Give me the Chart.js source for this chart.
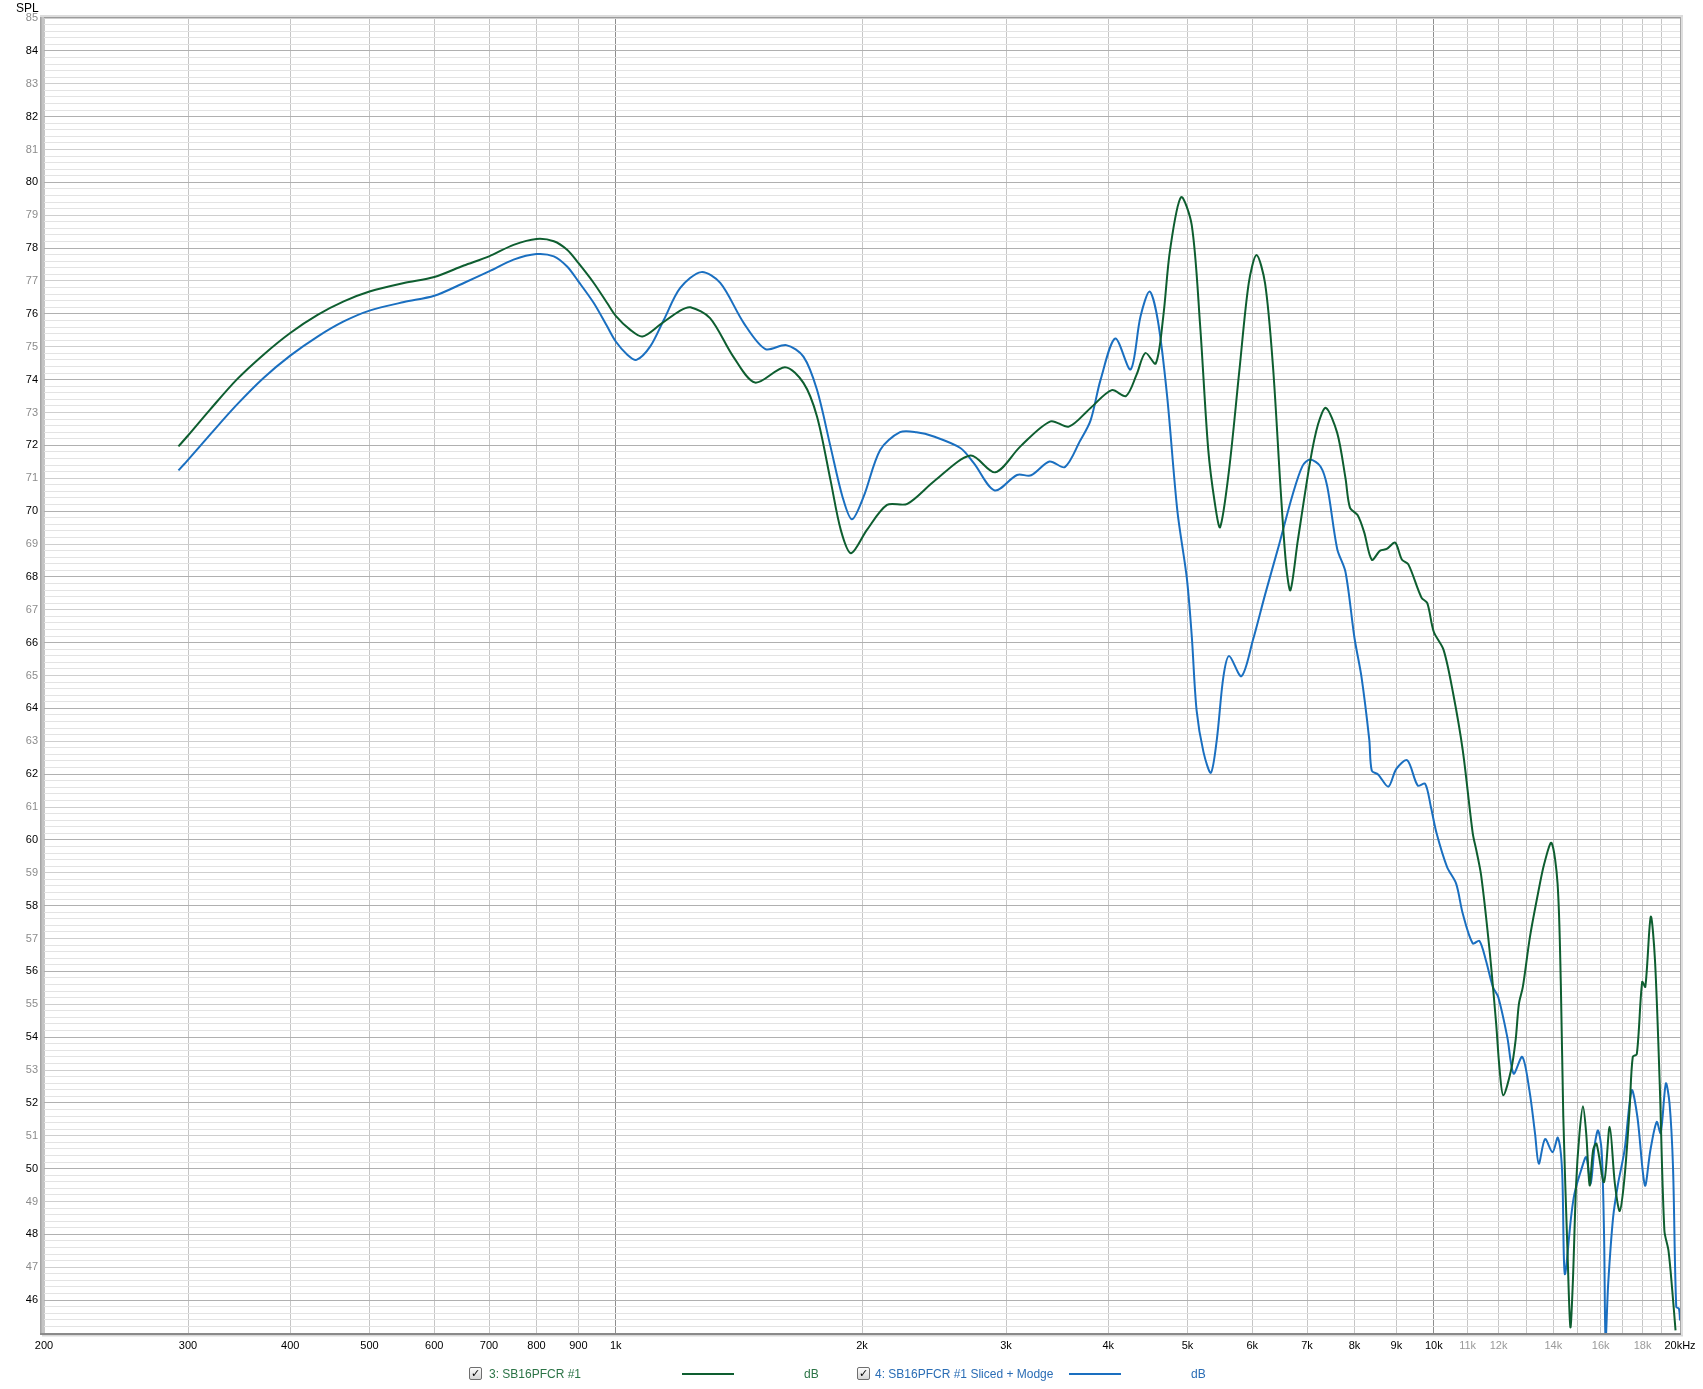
<!DOCTYPE html>
<html>
<head>
<meta charset="utf-8">
<script src="https://cdn.jsdelivr.net/npm/chart.js@4.4.0/dist/chart.umd.min.js"></script>
<style>
body { margin:0; background:#fff; font-family:"Liberation Sans", Arial, sans-serif; }
#wrap { position:relative; width:1703px; height:1389px; }
#spl { position:absolute; left:16px; top:1px; font-size:12px; color:#000; }
.leg { position:absolute; top:1367px; font-size:12px; line-height:14px; white-space:nowrap; }
.box { position:absolute; top:1367px; width:11px; height:11px; border:1px solid #6e6e6e; border-radius:2px;
       background:linear-gradient(#fdfdfd,#d6d6d6); font-size:11px; line-height:11px; text-align:center; color:#000; }
.swatch { position:absolute; top:1373px; height:2px; }
</style>
</head>
<body>
<div id="wrap">
<canvas id="myChart"></canvas>
<div id="spl">SPL</div>
<div class="box" style="left:469px">&#10003;</div>
<div class="leg" style="left:489px;color:#2b7446">3: SB16PFCR #1</div>
<div class="swatch" style="left:682px;width:52px;background:#0e5e30"></div>
<div class="leg" style="left:804px;color:#2b7446">dB</div>
<div class="box" style="left:857px">&#10003;</div>
<div class="leg" style="left:875px;color:#2a6db5">4: SB16PFCR #1 Sliced + Modge</div>
<div class="swatch" style="left:1069px;width:52px;background:#1a6fc0"></div>
<div class="leg" style="left:1191px;color:#2a6db5">dB</div>
</div>
<script>
// 3: SB16PFCR #1
var greenFreq = [292, 300, 319, 344, 371, 400, 432, 465, 500, 551, 600, 652, 700, 750, 800, 840, 872, 900, 940, 976,
	1000, 1041, 1078, 1134, 1199, 1234, 1304, 1392, 1480, 1610,
	1696, 1762, 1830, 1884, 1939, 2028, 2146, 2272, 2448, 2714, 2910, 3124, 3400, 3580, 3806, 4040, 4204, 4332, 4440, 4572,
	4670, 4760, 4910, 5060, 5180, 5300, 5400, 5480, 5620, 5786, 5940, 6072, 6220, 6360, 6500, 6600, 6680, 6820, 7060, 7220,
	7380, 7620, 7800, 7900, 8070, 8220, 8400, 8600, 8760, 8970, 9140, 9310, 9660, 9820, 10000, 10280, 10560, 10850, 11160, 11270,
	11430, 11700, 11920, 12030, 12160, 12430, 12590, 12710, 12850, 13110, 13410, 13650, 13930, 14170, 14300, 14400, 14570, 14690, 14790, 14930,
	15070, 15220, 15360, 15510, 15660, 15810, 16150, 16410, 16650, 16880, 17110, 17350, 17510, 17710, 17980, 18140, 18420, 18640, 18890, 19140,
	19360, 19570, 19750];
var greenSpl = [71.97, 72.30, 73.08, 74.00, 74.76, 75.42, 75.97, 76.38, 76.68, 76.94, 77.12, 77.47, 77.75, 78.10, 78.28, 78.21, 77.95, 77.55, 76.94, 76.33,
	75.94, 75.52, 75.31, 75.68, 76.10, 76.20, 75.87, 74.70, 73.91, 74.38,
	73.90, 72.88, 70.95, 69.43, 68.72, 69.43, 70.19, 70.22, 70.90, 71.69, 71.18, 71.97, 72.73, 72.57, 73.14, 73.68, 73.50, 74.15, 74.81, 74.49,
	75.92, 77.94, 79.55, 78.70, 75.67, 71.88, 70.24, 69.51, 71.25, 74.28, 76.93, 77.79, 76.93, 74.40, 70.62, 68.35, 67.59, 69.10, 71.50, 72.64,
	73.14, 72.38, 71.00, 70.10, 69.88, 69.36, 68.52, 68.80, 68.85, 69.04, 68.53, 68.38, 67.37, 67.20, 66.33, 65.78, 64.46, 62.73, 60.20, 59.70,
	58.90, 56.65, 54.41, 53.09, 52.23, 52.99, 53.90, 55.02, 55.53, 57.05, 58.37, 59.28, 59.91, 58.67, 55.63, 51.57, 47.51, 45.18, 46.50, 49.54,
	51.06, 51.90, 51.06, 49.49, 50.56, 50.76, 49.59, 51.27, 49.54, 48.71, 49.74, 51.77, 53.40, 53.48, 55.68, 55.53, 57.66, 56.34, 52.59, 48.12,
	47.51, 46.29, 45.08];

// 4: SB16PFCR #1 Sliced + Modge
var blueFreq = [292, 300, 319, 344, 371, 400, 432, 465, 500, 551, 600, 652, 700, 750, 800, 840, 872, 900, 940, 976,
	1000, 1033, 1060, 1102, 1145, 1199, 1272, 1342, 1434, 1524,
	1616, 1696, 1762, 1830, 1893, 1944, 2009, 2105, 2226, 2332, 2448, 2638, 2740, 2906, 3094, 3220, 3390, 3540, 3694, 3806,
	3915, 4080, 4260, 4380, 4494, 4600, 4720, 4860, 4990, 5060, 5130, 5230, 5340, 5430, 5530, 5620, 5820, 6010, 6220, 6470,
	6720, 6910, 7060, 7270, 7410, 7620, 7800, 8000, 8160, 8340, 8400, 8550, 8800, 9000, 9280, 9560, 9760, 9920, 10080, 10380,
	10650, 10850, 11160, 11370, 11580, 11810, 11990, 12300, 12520, 12830, 13090, 13300, 13440, 13680, 13970, 14180, 14350, 14460, 14720, 14860,
	15140, 15360, 15550, 15740, 15880, 16040, 16150, 16220, 16340, 16570, 16800, 17110, 17460, 17740, 18120, 18400, 18730, 18940, 19220, 19420,
	19610, 19790, 19940, 20000];
var blueSpl = [71.24, 71.56, 72.32, 73.23, 74.05, 74.73, 75.31, 75.77, 76.10, 76.36, 76.55, 76.94, 77.29, 77.65, 77.82, 77.75, 77.44, 76.99, 76.33, 75.62,
	75.16, 74.76, 74.60, 75.01, 75.82, 76.79, 77.27, 76.94, 75.72, 74.93,
	75.05, 74.70, 73.69, 71.97, 70.44, 69.75, 70.44, 71.86, 72.40, 72.40, 72.27, 71.92, 71.46, 70.63, 71.10, 71.09, 71.51, 71.34, 72.13, 72.76,
	74.00, 75.25, 74.31, 75.92, 76.68, 75.79, 73.52, 69.99, 67.97, 66.20, 63.93, 62.67, 62.04, 63.05, 64.94, 65.59, 64.98, 66.07, 67.46, 68.98,
	70.49, 71.37, 71.57, 71.36, 70.75, 68.85, 68.15, 66.14, 64.95, 63.05, 62.10, 61.99, 61.62, 62.16, 62.42, 61.65, 61.71, 61.00, 60.20, 59.18,
	58.67, 57.76, 56.85, 56.93, 56.34, 55.53, 55.22, 54.00, 52.89, 53.40, 52.38, 51.06, 50.15, 50.90, 50.50, 50.94, 49.95, 46.80, 48.53, 49.24,
	49.95, 50.35, 49.54, 50.76, 51.16, 50.55, 48.02, 44.80, 46.50, 48.53, 49.54, 50.56, 52.38, 51.57, 49.49, 50.56, 51.42, 51.08, 52.59, 51.98,
	50.05, 45.79, 45.74, 45.38];

// frequency grid lines and their labels ("" = line without label)
var xTickValues = [200, 300, 400, 500, 600, 700, 800, 900, 1000, 2000, 3000, 4000, 5000, 6000, 7000, 8000, 9000, 10000,
	11000, 12000, 13000, 14000, 15000, 16000, 17000, 18000, 19000, 20000];
var xTickLabels = ["200", "300", "400", "500", "600", "700", "800", "900", "1k", "2k", "3k", "4k", "5k", "6k", "7k", "8k", "9k", "10k",
	"11k", "12k", "", "14k", "", "16k", "", "18k", "", "20kHz"];
var xGreyLabels = ["11k", "12k", "14k", "16k", "18k"];

var yMin = 45;
var yMax = 85;

function toPoints(xs, ys) {
	var pts = [];
	for (var i=0; i<xs.length; i++) {
		pts.push({x: xs[i], y: ys[i]});
	}
	return pts;
}

function isWhole(v) {
	return Math.abs(v - Math.round(v)) < 1e-6;
}

var framePlugin = {
	id: "frame",
	afterDraw: function (chart) {
		var ctx = chart.ctx;
		var a = chart.chartArea;
		ctx.save();
		// left raised edge
		ctx.fillStyle = "#c4c4c4";
		ctx.fillRect(a.left - 4, a.top - 2, 4, a.bottom - a.top + 4);
		ctx.fillStyle = "#a6a6a6";
		ctx.fillRect(a.left - 4, a.top - 2, 1.5, a.bottom - a.top + 4);
		// top edge
		ctx.fillStyle = "#dcdcdc";
		ctx.fillRect(a.left - 4, a.top - 3, a.right - a.left + 7, 2);
		ctx.fillStyle = "#9c9c9c";
		ctx.fillRect(a.left, a.top - 1, a.right - a.left, 1);
		// right edge
		ctx.fillStyle = "#a8a8a8";
		ctx.fillRect(a.right, a.top - 1, 1, a.bottom - a.top + 2);
		ctx.fillStyle = "#dedede";
		ctx.fillRect(a.right + 1, a.top - 1, 2, a.bottom - a.top + 4);
		// bottom axis
		ctx.fillStyle = "#8a8a8a";
		ctx.fillRect(a.left - 4, a.bottom, a.right - a.left + 5, 2);
		ctx.fillStyle = "#d8d8d8";
		ctx.fillRect(a.left - 2, a.bottom + 2, a.right - a.left + 5, 1.5);
		ctx.restore();
	}
};

new Chart("myChart", {
	type: "line",
	data: {
		datasets: [{
			label: "3: SB16PFCR #1",
			data: toPoints(greenFreq, greenSpl),
			borderColor: "#0e5e30",
			borderWidth: 2,
			pointRadius: 0,
			tension: 0.3,
			fill: false
		}, {
			label: "4: SB16PFCR #1 Sliced + Modge",
			data: toPoints(blueFreq, blueSpl),
			borderColor: "#1a6fc0",
			borderWidth: 2,
			pointRadius: 0,
			tension: 0.3,
			fill: false
		}]
	},
	options: {
		responsive: true,
		maintainAspectRatio: false,
		animation: false,
		events: [],
		layout: {padding: {left: 0, top: 18, right: 23, bottom: 0}},
		plugins: {
			legend: {display: false},
			title: {display: false},
			tooltip: {enabled: false}
		},
		scales: {
			x: {
				type: "logarithmic",
				min: 200,
				max: 20000,
				afterBuildTicks: function (scale) {
					scale.ticks = xTickValues.map(function (v) { return {value: v}; });
				},
				afterFit: function (scale) { scale.height = 56; },
				border: {display: false},
				grid: {
					drawTicks: false,
					lineWidth: 1,
					color: function (c) {
						var v = c.tick ? c.tick.value : 0;
						if (v === 1000 || v === 10000) return "#8e8e8e";
						return "#c6c6c6";
					}
				},
				ticks: {
					autoSkip: false,
					maxRotation: 0,
					padding: 6,
					font: {family: "Liberation Sans", size: 11},
					color: function (c) {
						var idx = xTickValues.indexOf(c.tick.value);
						return xGreyLabels.indexOf(xTickLabels[idx]) >= 0 ? "#9a9a9a" : "#000";
					},
					callback: function (value) {
						var idx = xTickValues.indexOf(value);
						return idx >= 0 ? xTickLabels[idx] : "";
					}
				}
			},
			y: {
				type: "linear",
				min: yMin,
				max: yMax,
				afterBuildTicks: function (scale) {
					var t = [];
					for (var k = 0; k <= (yMax - yMin) * 5; k++) {
						t.push({value: Math.round((yMin + k * 0.2) * 10) / 10});
					}
					scale.ticks = t;
				},
				afterFit: function (scale) { scale.width = 44; },
				border: {display: false},
				grid: {
					drawTicks: false,
					lineWidth: 1,
					color: function (c) {
						var v = c.tick ? c.tick.value : 0;
						if (isWhole(v)) return Math.round(v) % 2 === 0 ? "#b0b0b0" : "#cecece";
						return "#e3e3e3";
					}
				},
				ticks: {
					autoSkip: false,
					padding: 6,
					font: {family: "Liberation Sans", size: 11},
					color: function (c) {
						return Math.round(c.tick.value) % 2 === 0 ? "#000" : "#8c8c8c";
					},
					callback: function (value) {
						if (!isWhole(value) || value < 45.5) return "";
						return String(Math.round(value));
					}
				}
			}
		}
	},
	plugins: [framePlugin]
});
</script>
</body>
</html>
